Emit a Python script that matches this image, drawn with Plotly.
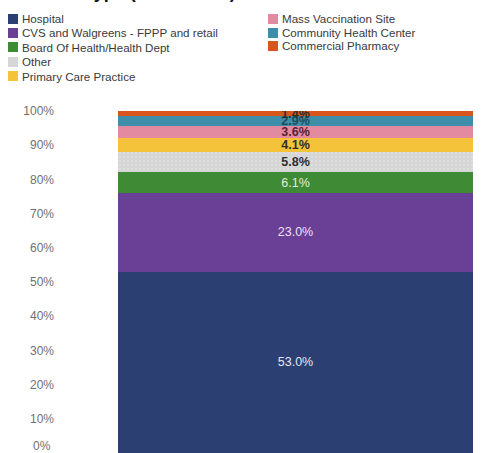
import plotly.graph_objects as go

categories = ["Hospital", "CVS and Walgreens - FPPP and retail", "Board Of Health/Health Dept",
              "Other", "Primary Care Practice", "Mass Vaccination Site",
              "Community Health Center", "Commercial Pharmacy"]
shares = [53.0, 23.0, 6.1, 5.8, 4.1, 3.6, 2.9, 1.4]
colors = ["#2c3f72", "#6a3f96", "#3f8a34", "#d6d6d6", "#f5c33a", "#e38aa0", "#3f8ea9", "#d8561c"]
label_colors = ["#e4e6f0", "#eee2f2", "#e2f0dc", "#2e2e2e", "#2e2e2e", "#5a2236", "#1c4d5c", "#2e2e2e"]
tick_vals = [0.1, 0.2, 0.3, 0.4, 0.5, 0.6, 0.7, 0.8, 0.9, 1.0]
tick_text = ["10%", "20%", "30%", "40%", "50%", "60%", "70%", "80%", "90%", "100%"]
title = "Practice Type (cumulative)"

W, H = 484, 453
L, R, T, B = 58, 11, 111, 0
pw, ph = W - L - R, H - T - B

def px_x(x):
    return (x - L) / pw

def px_y(y):
    return (H - B - y) / ph

fig = go.Figure()
for name, v, c, lc in zip(categories, shares, colors, label_colors):
    bold = lc == "#2e2e2e" or name in ("Mass Vaccination Site", "Community Health Center")
    txt = f"{v:.1f}%"
    if bold:
        txt = f"<b>{txt}</b>"
    marker = dict(color=c, line=dict(width=0))
    if name == "Other":
        marker["pattern"] = dict(shape=".", fgcolor="#f6f6f6", bgcolor=c, size=4, solidity=0.15)
    fig.add_trace(go.Bar(
        x=[0], y=[v / 100], width=[1], name=name, marker=marker,
        text=[txt], textposition="inside", insidetextanchor="middle",
        constraintext="none", textangle=0,
        insidetextfont=dict(color=lc, size=12.5, family="Liberation Sans, Arial"),
        showlegend=False, hoverinfo="name+y",
    ))

# manual legend
left_rows = [19, 33, 47, 62, 76]
right_rows = [19, 33, 46]
positions = []
for i in range(5):
    positions.append((8, left_rows[i]))
for i in range(3):
    positions.append((268, right_rows[i]))
shapes = []
annotations = []
for idx, (xp, yp) in enumerate(positions):
    shapes.append(dict(type="rect", xref="paper", yref="paper",
                       x0=px_x(xp), x1=px_x(xp + 10), y0=px_y(yp + 5), y1=px_y(yp - 5),
                       fillcolor=colors[idx], line=dict(width=0)))
    annotations.append(dict(text=categories[idx], xref="paper", yref="paper",
                            x=px_x(xp + 12), y=px_y(yp), xanchor="left", yanchor="middle",
                            showarrow=False,
                            font=dict(size=11.6, color="#3a3a3a", family="Liberation Sans, Arial")))

annotations.append(dict(text="0%", xref="paper", yref="paper", x=px_x(53), y=px_y(446),
                        xanchor="right", yanchor="middle", showarrow=False,
                        font=dict(size=12, color="#707070", family="Liberation Sans, Arial")))
annotations.append(dict(text=f"<b>{title}</b>", xref="paper", yref="paper", x=px_x(7), y=px_y(4),
                        xanchor="left", yanchor="bottom", showarrow=False,
                        font=dict(size=18, color="#111111", family="Liberation Sans, Arial")))

fig.update_layout(
    width=W, height=H, barmode="stack",
    margin=dict(l=L, r=R, t=T, b=B, pad=0),
    paper_bgcolor="white", plot_bgcolor="white",
    xaxis=dict(range=[-0.5 - 60 / 355, 0.5], visible=False, fixedrange=True),
    yaxis=dict(range=[0, 1], tickvals=tick_vals, ticktext=tick_text, showgrid=False,
               zeroline=False, showline=False, ticks="", automargin=False,
               ticklabelstandoff=3,
               tickfont=dict(size=12, color="#707070", family="Liberation Sans, Arial")),
    shapes=shapes, annotations=annotations,
    font=dict(family="Liberation Sans, Arial"),
)
fig.write_html("out.html", config={"displayModeBar": False},
               post_script="document.body.style.margin='0';document.body.style.overflow='hidden';")
